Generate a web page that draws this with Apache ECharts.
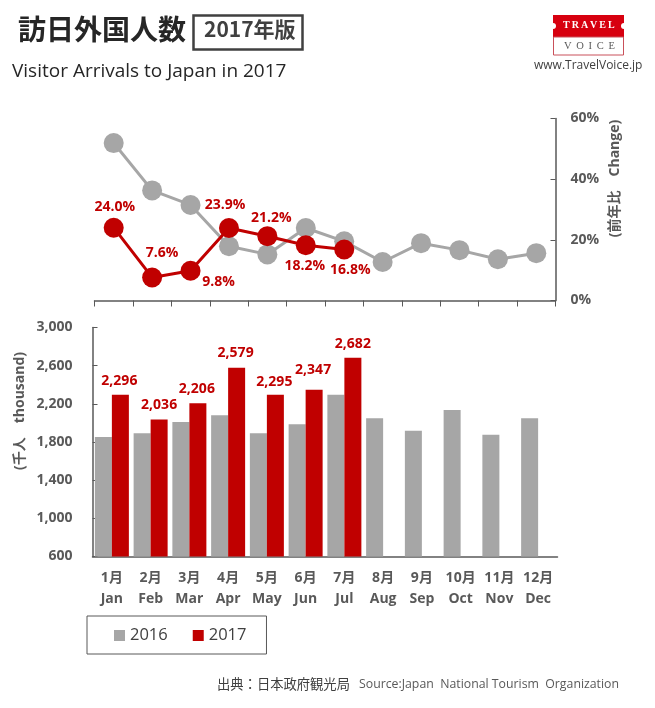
<!DOCTYPE html>
<html>
<head>
    <meta charset="utf-8">
    <title>訪日外国人数</title>
    <script src="https://cdn.jsdelivr.net/npm/echarts@6/dist/echarts.min.js"></script>
    <style>
        html, body { margin: 0; padding: 0; background: #fff; }
        #chart { width: 655px; height: 708px; }
    </style>
</head>
<body>
<div id="chart"></div>
<script type="text/javascript">
    var months = ['1月\nJan', '2月\nFeb', '3月\nMar', '4月\nApr', '5月\nMay', '6月\nJun', '7月\nJul', '8月\nAug', '9月\nSep', '10月\nOct', '11月\nNov', '12月\nDec'];
    var arrivals2016 = [1852, 1891, 2009, 2081, 1893, 1985, 2296, 2049, 1918, 2135, 1875, 2050];
    var arrivals2017 = [2296, 2036, 2206, 2579, 2295, 2347, 2682];
    var change2016 = [51.9, 36.3, 31.5, 17.9, 15.2, 23.9, 19.5, 12.7, 18.9, 16.6, 13.6, 15.6];
    var change2017 = [24.0, 7.6, 9.8, 23.9, 21.2, 18.2, 16.8];
    var arrivalTicks = [600, 1000, 1400, 1800, 2200, 2600, 3000];

    var LABEL_FONT = '"Open Sans", "Noto Sans CJK JP", sans-serif';
    var CJK_FONT = '"Noto Sans CJK JP", sans-serif';
    var GRAY = '#a6a6a6';
    var RED = '#c00000';
    var AXIS = '#595959';

    // 折れ線ラベルの位置（マーカー中心からのずれ）
    var changeLabelOffsets = [[1, -21], [10, -24], [28, 11], [-4, -23], [4, -18], [-1, 21], [6, 20]];
    // 棒ラベルの位置
    var barLabelOffsets = [[-1, 0], [0, 0], [-1, 0], [-1, -1], [-1, 1], [-1, -6], [0, 0]];

    function thousands(v) {
        return String(v).replace(/\B(?=(\d{3})+$)/g, ',');
    }

    var chart = echarts.init(document.getElementById('chart'), null, {renderer: 'canvas'});

    var option = {
        backgroundColor: '#fff',
        animation: false,
        legend: {
            left: 87,
            top: 616,
            width: 180,
            data: [{name: '2016', icon: 'rect'}, {name: '2017', icon: 'rect'}],
            itemWidth: 11,
            itemHeight: 11,
            itemGap: 25,
            padding: [11, 20, 10, 27],
            borderColor: AXIS,
            borderWidth: 1,
            textStyle: {fontFamily: '"Open Sans", sans-serif', fontSize: 16.5, color: '#404040'}
        },
        grid: [
            {left: 94.5, top: 118.5, width: 461, height: 182},
            {left: 92.5, top: 327.5, width: 465, height: 229}
        ],
        xAxis: [
            {
                type: 'category',
                gridIndex: 0,
                data: months,
                axisLine: {lineStyle: {color: AXIS, width: 1.5}},
                axisTick: {show: true, length: 6, lineStyle: {color: AXIS}},
                axisLabel: {show: false}
            },
            {
                type: 'category',
                gridIndex: 1,
                data: months,
                axisLine: {lineStyle: {color: AXIS, width: 1.5}},
                axisTick: {show: false},
                axisLabel: {
                    interval: 0,
                    margin: 11,
                    fontFamily: LABEL_FONT,
                    fontSize: 14,
                    fontWeight: 'bold',
                    lineHeight: 21,
                    color: AXIS
                }
            }
        ],
        yAxis: [
            {
                type: 'value',
                gridIndex: 0,
                position: 'right',
                min: 0,
                max: 60,
                interval: 20,
                splitLine: {show: false},
                axisLine: {show: true, lineStyle: {color: AXIS, width: 1.5}},
                axisTick: {show: true, inside: true, length: 5, lineStyle: {color: AXIS}},
                axisLabel: {
                    margin: 15,
                    padding: [2, 0, 0, 0],
                    fontFamily: LABEL_FONT,
                    fontSize: 14,
                    fontWeight: 'bold',
                    color: AXIS,
                    formatter: '{value}%'
                }
            },
            {
                type: 'value',
                gridIndex: 1,
                min: 600,
                max: 3000,
                splitLine: {show: false},
                axisLine: {show: true, lineStyle: {color: AXIS, width: 1.5}},
                axisTick: {show: true, inside: true, length: 5, lineStyle: {color: AXIS}, customValues: arrivalTicks},
                axisLabel: {
                    margin: 20,
                    padding: [2, 0, 0, 0],
                    fontFamily: LABEL_FONT,
                    fontSize: 14,
                    fontWeight: 'bold',
                    color: AXIS,
                    customValues: arrivalTicks,
                    formatter: thousands
                }
            }
        ],
        series: [
            {
                name: '2016',
                type: 'line',
                xAxisIndex: 0,
                yAxisIndex: 0,
                data: change2016,
                symbol: 'circle',
                symbolSize: 20,
                itemStyle: {color: GRAY},
                lineStyle: {color: GRAY, width: 3}
            },
            {
                name: '2017',
                type: 'line',
                xAxisIndex: 0,
                yAxisIndex: 0,
                data: change2017.map(function (v, i) {
                    return {value: v, label: {offset: changeLabelOffsets[i]}};
                }),
                symbol: 'circle',
                symbolSize: 20,
                itemStyle: {color: RED},
                lineStyle: {color: RED, width: 3},
                label: {
                    show: true,
                    position: 'inside',
                    fontFamily: LABEL_FONT,
                    fontSize: 14,
                    fontWeight: 'bold',
                    color: RED,
                    formatter: function (p) {
                        return p.value.toFixed(1) + '%';
                    }
                }
            },
            {
                name: '2016',
                type: 'bar',
                xAxisIndex: 1,
                yAxisIndex: 1,
                data: arrivals2016,
                barWidth: 17,
                barGap: 0,
                itemStyle: {color: GRAY}
            },
            {
                name: '2017',
                type: 'bar',
                xAxisIndex: 1,
                yAxisIndex: 1,
                data: arrivals2017.map(function (v, i) {
                    return {value: v, label: {offset: barLabelOffsets[i]}};
                }),
                barWidth: 17,
                barGap: 0,
                itemStyle: {color: RED},
                label: {
                    show: true,
                    position: 'top',
                    distance: 7,
                    fontFamily: LABEL_FONT,
                    fontSize: 14,
                    fontWeight: 'bold',
                    color: RED,
                    formatter: function (p) {
                        return thousands(p.value);
                    }
                }
            }
        ],
        graphic: [
            {type: 'text', left: 18, top: 15, style: {text: '訪日外国人数', font: 'bold 28px ' + CJK_FONT, fill: '#262626'}},
            {type: 'rect', shape: {x: 193.5, y: 15.5, width: 109, height: 34}, style: {fill: '#fff', stroke: '#404040', lineWidth: 2.5}},
            {type: 'text', left: 204, top: 19, style: {text: '2017年版', font: 'bold 21px ' + CJK_FONT, fill: '#404040'}},
            {type: 'text', left: 12, top: 62, style: {text: 'Visitor Arrivals to Japan in 2017', font: '19px "Open Sans", sans-serif', fill: '#262626'}},

            {type: 'rect', shape: {x: 553, y: 15, width: 71, height: 22}, style: {fill: '#d7000f'}},
            {type: 'rect', shape: {x: 553.5, y: 37, width: 70, height: 18}, style: {fill: '#fff', stroke: '#c9505a', lineWidth: 1}},
            {type: 'circle', shape: {cx: 553, cy: 26, r: 3}, style: {fill: '#fff'}},
            {type: 'circle', shape: {cx: 624, cy: 26, r: 3}, style: {fill: '#fff'}},
            {type: 'text', left: 563, top: 20, style: {text: 'T\u2009R\u2009A\u2009V\u2009E\u2009L', font: 'bold 10px "Liberation Serif", serif', fill: '#fff'}},
            {type: 'text', left: 564, top: 41, style: {text: 'V \u2009O \u2009I \u2009C \u2009E', font: '10.5px "Liberation Serif", serif', fill: '#595959'}},
            {type: 'text', left: 534, top: 60, style: {text: 'www.TravelVoice.jp', font: '12px "Open Sans", sans-serif', fill: '#404040'}},

            {type: 'text', x: 615, y: 178.5, rotation: Math.PI / 2, style: {text: '(前年比　Change)', font: 'bold 14px ' + LABEL_FONT, fill: AXIS, align: 'center', verticalAlign: 'middle'}},
            {type: 'text', x: 20, y: 411, rotation: Math.PI / 2, style: {text: '(千人　thousand)', font: 'bold 14px ' + LABEL_FONT, fill: AXIS, align: 'center', verticalAlign: 'middle'}},

            {type: 'text', left: 217, top: 677, style: {text: '出典：日本政府観光局', font: '13.3px ' + CJK_FONT, fill: '#404040'}},
            {type: 'text', left: 359, top: 678, style: {text: 'Source:Japan  National Tourism  Organization', font: '12.3px "Open Sans", "Noto Sans CJK JP", sans-serif', fill: '#595959'}}
        ]
    };

    chart.setOption(option);
</script>
</body>
</html>
